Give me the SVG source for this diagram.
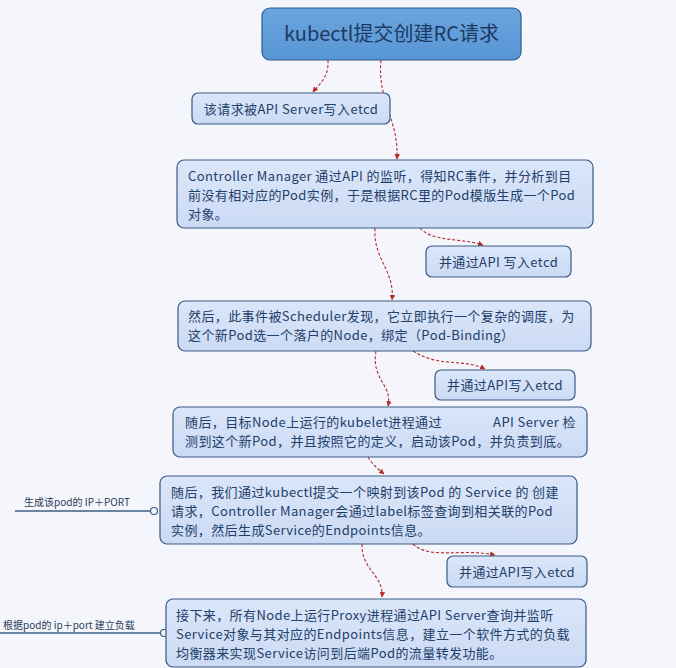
<svg xmlns="http://www.w3.org/2000/svg" width="676" height="668" viewBox="0 0 676 668">
<defs>
<marker id="ah" viewBox="0 0 10 10" refX="9" refY="5" markerWidth="5" markerHeight="5" orient="auto">
<path d="M0,0 L10,5 L0,10 z" fill="#b52a2a"/>
</marker>
<linearGradient id="ng" x1="0" y1="0" x2="0" y2="1">
<stop offset="0" stop-color="#dbe6f9"/>
<stop offset="1" stop-color="#cbdaf4"/>
</linearGradient>
<linearGradient id="rg" x1="0" y1="0" x2="0" y2="1">
<stop offset="0" stop-color="#6aa5df"/>
<stop offset="1" stop-color="#5895d4"/>
</linearGradient>
</defs>
<style>
.n{fill:url(#ng);stroke:#3a5a86;stroke-width:1.2}
.r{fill:url(#rg);stroke:#2f5d8e;stroke-width:1.2}
.t{font-family:"Noto Sans CJK SC","Noto Sans",sans-serif;font-size:13px;letter-spacing:0.4px;fill:#22406a}
.rt{font-family:"Noto Sans CJK SC","Noto Sans",sans-serif;font-size:20px;fill:#1e3a62}
.c{fill:none;stroke:#b52a2a;stroke-width:1.1;stroke-dasharray:3 2;marker-end:url(#ah)}
.l{stroke:#3f5f86;stroke-width:1.6;fill:none}
.lt{font-family:"Noto Sans CJK SC","Noto Sans",sans-serif;font-size:10px;fill:#2a3d5a}
</style>
<rect width="676" height="668" fill="#f4f6fb"/>

<g id="connectors">
<path class="c" d="M328,60 C329,78 319,84 313,92"/>
<path class="c" d="M381,60 C377,100 399,120 397,159"/>
<path class="c" d="M420,228 C432,242 462,238 483,245"/>
<path class="c" d="M375,228 C373,260 395,270 392,300"/>
<path class="c" d="M413,351 C440,368 462,358 485,369"/>
<path class="c" d="M376,351 C371,380 393,385 388,406"/>
<path class="c" d="M368,457 C372,464 378,469 384,474"/>
<path class="c" d="M413,544 C430,560 462,548 495,555"/>
<path class="c" d="M362,544 C361,570 384,575 382,597"/>
<path class="l" d="M15,511 H150"/>
<circle cx="154" cy="511" r="3.5" fill="#f4f6fb" stroke="#3f5f86" stroke-width="1.2"/>
<path class="l" d="M0,633 H160"/>
<circle cx="164" cy="633" r="3.5" fill="#f4f6fb" stroke="#3f5f86" stroke-width="1.2"/>
</g>

<g id="root">
<rect class="r" x="262" y="8" width="259" height="52" rx="8"/>
<text class="rt" x="391.5" y="41" text-anchor="middle">kubectl提交创建RC请求</text>
</g>

<g id="n1">
<rect class="n" x="192" y="93" width="198" height="31" rx="6"/>
<text class="t" x="291" y="114" text-anchor="middle">该请求被API Server写入etcd</text>
</g>

<g id="n2">
<rect class="n" x="177" y="160" width="416" height="68" rx="7"/>
<text class="t" x="188" y="181">Controller Manager 通过API 的监听，得知RC事件，并分析到目</text>
<text class="t" x="188" y="200">前没有相对应的Pod实例，于是根据RC里的Pod模版生成一个Pod</text>
<text class="t" x="188" y="219">对象。</text>
</g>

<g id="n3">
<rect class="n" x="426" y="246" width="145" height="31" rx="6"/>
<text class="t" x="498.5" y="267" text-anchor="middle">并通过API 写入etcd</text>
</g>

<g id="n4">
<rect class="n" x="178" y="301" width="413" height="50" rx="7"/>
<text class="t" x="188" y="321">然后，此事件被Scheduler发现，它立即执行一个复杂的调度，为</text>
<text class="t" x="188" y="340">这个新Pod选一个落户的Node，绑定（Pod-Binding）</text>
</g>

<g id="n5">
<rect class="n" x="435" y="370" width="140" height="30" rx="6"/>
<text class="t" x="505" y="390" text-anchor="middle">并通过API写入etcd</text>
</g>

<g id="n6">
<rect class="n" x="173" y="407" width="414" height="50" rx="7"/>
<text class="t" x="185" y="427">随后，目标Node上运行的kubelet进程通过</text>
<text class="t" x="576" y="427" text-anchor="end">API Server 检</text>
<text class="t" x="185" y="446">测到这个新Pod，并且按照它的定义，启动该Pod，并负责到底。</text>
</g>

<g id="n7">
<rect class="n" x="160" y="476" width="417" height="68" rx="7"/>
<text class="t" x="171" y="497">随后，我们通过kubectl提交一个映射到该Pod 的 Service 的 创建</text>
<text class="t" x="171" y="516">请求，Controller Manager会通过label标签查询到相关联的Pod</text>
<text class="t" x="171" y="535">实例，然后生成Service的Endpoints信息。</text>
</g>

<g id="n8">
<rect class="n" x="447" y="556" width="140" height="31" rx="6"/>
<text class="t" x="517" y="577" text-anchor="middle">并通过API写入etcd</text>
</g>

<g id="n9">
<rect class="n" x="166" y="599" width="420" height="68" rx="7"/>
<text class="t" x="176" y="620">接下来，所有Node上运行Proxy进程通过API Server查询并监听</text>
<text class="t" x="176" y="639">Service对象与其对应的Endpoints信息，建立一个软件方式的负载</text>
<text class="t" x="176" y="658">均衡器来实现Service访问到后端Pod的流量转发功能。</text>
</g>

<g id="labels">
<text class="lt" x="24" y="506">生成该pod的 IP＋PORT</text>
<text class="lt" x="3" y="629">根据pod的 ip＋port 建立负载</text>
</g>
</svg>
